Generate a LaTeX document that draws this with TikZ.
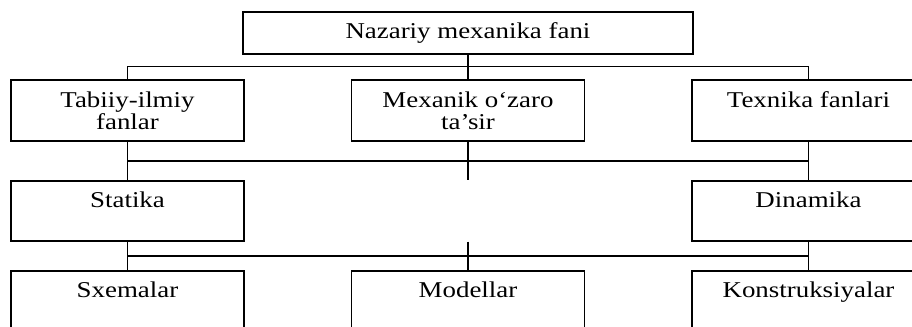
\documentclass[tikz,border=0pt]{standalone}
\usepackage{fontspec}
\setmainfont[FakeStretch=1.19]{Liberation Serif}
\usetikzlibrary{calc}
\tikzset{
  blok/.style={draw, line width=0.6pt, minimum width=116.5pt, minimum height=30pt,
    inner sep=0pt, align=center, font=\fontsize{11.3}{11}\selectfont},
  chiziq/.style={line width=0.8pt}
}

\begin{document}
\begin{tikzpicture}[x=0.5pt,y=-0.5pt]
		%%%%% START %%%%%
		
		\useasboundingbox (0,0) rectangle (912,327);
		\clip (0,0) rectangle (912,327);
		
		\node[blok, minimum width=225pt, minimum height=21pt] (nazariy) at (468,33) {Nazariy mexanika fani};
		
		\node[blok, minimum height=30.5pt] (tabiiy) at (127.5,110.5) {Tabiiy-ilmiy\\fanlar};
		\node[blok, minimum height=30.5pt] (mexanik) at (468,110.5) {Mexanik o‘zaro\\ta’sir};
		\node[blok, minimum height=30.5pt] (texnika) at (808.5,110.5) {Texnika fanlari\\\mbox{}};
		
		\node[blok] (statika) at (127.5,211) {Statika\\\mbox{}};
		\node[blok] (dinamika) at (808.5,211) {Dinamika\\\mbox{}};
		
		\node[blok] (sxemalar) at (127.5,301) {Sxemalar\\\mbox{}};
		\node[blok] (modellar) at (468,301) {Modellar\\\mbox{}};
		\node[blok] (konstruksiya) at (808.5,301) {Konstruksiyalar\\\mbox{}};
		
		\draw[chiziq] (nazariy) -- (mexanik);
		\draw[chiziq] (tabiiy.north) -- ++(0,-13) -| (texnika.north);
		
		\draw[chiziq] (tabiiy) -- (statika);
		\draw[chiziq] (texnika) -- (dinamika);
		\draw[chiziq] ($(tabiiy.south)!0.5!(statika.north)$) -- ($(texnika.south)!0.5!(dinamika.north)$);
		\coordinate (uzilish) at (mexanik.south |- statika.north);
		\draw[chiziq] (mexanik) -- (uzilish);
		
		\coordinate (orta) at (mexanik.south |- statika.south);
		\draw[chiziq] (statika) -- (sxemalar);
		\draw[chiziq] (dinamika) -- (konstruksiya);
		\draw[chiziq] (orta) -- (modellar);
		\draw[chiziq] ($(statika.south)!0.5!(sxemalar.north)$) -- ($(dinamika.south)!0.5!(konstruksiya.north)$);
		
		%%%%% END %%%%%
	\end{tikzpicture}
\end{document}
